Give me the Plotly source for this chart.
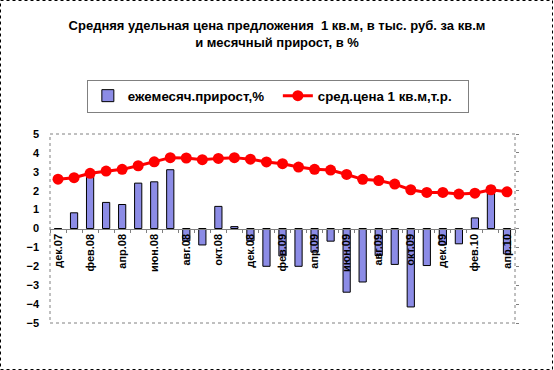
import plotly.graph_objects as go

months = ["дек.07", "янв.08", "фев.08", "мар.08", "апр.08", "май.08", "июн.08", "июл.08",
          "авг.08", "сен.08", "окт.08", "ноя.08", "дек.08", "янв.09", "фев.09", "мар.09",
          "апр.09", "май.09", "июн.09", "июл.09", "авг.09", "сен.09", "окт.09", "ноя.09",
          "дек.09", "янв.10", "фев.10", "мар.10", "апр.10"]

growth = [0.0, 0.83, 2.79, 1.38, 1.27, 2.40, 2.47, 3.11,
          -0.65, -0.87, 1.17, 0.10, -0.65, -2.00, -1.45, -2.00,
          -1.25, -0.67, -3.37, -2.83, -1.43, -1.90, -4.15, -1.96,
          -0.86, -0.81, 0.56, 2.24, -1.34]

price = [2.61, 2.69, 2.92, 3.04, 3.13, 3.32, 3.53, 3.75,
         3.73, 3.64, 3.71, 3.75, 3.67, 3.52, 3.43, 3.25,
         3.13, 3.09, 2.86, 2.60, 2.54, 2.35, 2.05, 1.91,
         1.91, 1.82, 1.87, 2.05, 1.94]

tick_months = months[::2]

title_text = "Средняя удельная цена предложения  1 кв.м, в тыс. руб. за кв.м<br>и месячный прирост, в %"
bar_name = "ежемесяч.прирост,%"
line_name = "сред.цена 1 кв.м,т.р."

FONT = "Liberation Sans, Arial, sans-serif"

fig = go.Figure()
fig.add_trace(go.Bar(
    x=months, y=growth, name=bar_name,
    marker=dict(color="#8c8ce6", line=dict(color="#000000", width=1)),
    xaxis="x", yaxis="y",
))
fig.add_trace(go.Scatter(
    x=months, y=price, name=line_name, mode="lines+markers",
    line=dict(color="#ff0000", width=3),
    marker=dict(color="#ff0000", size=11),
    xaxis="x2", yaxis="y2",
))

W, H = 554, 370
L, R, T, B = 50, 39, 134, 47
pw, ph = W - L - R, H - T - B

fig.update_layout(
    width=W, height=H,
    margin=dict(l=L, r=R, t=T, b=B),
    paper_bgcolor="white", plot_bgcolor="white",
    font=dict(family=FONT, size=11, color="black"),
    title=dict(text=title_text, x=0.5, xanchor="center", y=1 - 30 / H, yanchor="middle",
               font=dict(family=FONT, size=13, color="black", weight="bold")),
    bargap=0.55,
    showlegend=True,
    legend=dict(orientation="h", x=0.49, xanchor="center", y=(H - B - 96) / ph, yanchor="middle",
                bordercolor="#808080", borderwidth=1, bgcolor="white",
                font=dict(family=FONT, size=13.3, color="black", weight="bold"),
                entrywidth=145, itemwidth=30),
    xaxis=dict(type="category", categoryorder="array", categoryarray=months,
               range=[-0.5, len(months) - 0.5], anchor="free", position=0.5,
               tickmode="array", tickvals=tick_months, ticktext=tick_months,
               tickangle=-90, ticks="", showline=True, linecolor="#808080", linewidth=1,
               showgrid=False, zeroline=False,
               tickfont=dict(family=FONT, size=11, color="black", weight="bold")),
    xaxis2=dict(type="category", categoryorder="array", categoryarray=months,
                range=[-0.5, len(months) - 0.5], overlaying="x", anchor="free", position=0.5,
                tickson="boundaries", ticks="outside", ticklen=3, tickcolor="#808080",
                showticklabels=False, showline=False, showgrid=False, zeroline=False),
    yaxis=dict(range=[-5, 5], dtick=1, tick0=0, showgrid=False, zeroline=False,
               ticks="", showline=False, ticklabelstandoff=10,
               tickfont=dict(family=FONT, size=11, color="black", weight="bold")),
    yaxis2=dict(range=[-5, 5], dtick=1, tick0=0, overlaying="y", side="right",
                showgrid=False, zeroline=False, ticks="outside", ticklen=3, tickcolor="#808080",
                showticklabels=False, showline=False),
    shapes=[
        dict(type="rect", xref="paper", yref="paper", x0=0, x1=1, y0=0, y1=1,
             line=dict(color="#808080", width=1, dash="dot"), layer="below"),
        dict(type="rect", xref="paper", yref="paper",
             x0=(0.5 - L) / pw, x1=(552.5 - L) / pw,
             y0=-(B - 0.5) / ph, y1=1 + (T - 0.5) / ph,
             line=dict(color="#000000", width=1, dash="dot")),
    ],
)

fig.write_html("out.html", config={"displayModeBar": False},
               post_script="document.body.style.margin='0';")
